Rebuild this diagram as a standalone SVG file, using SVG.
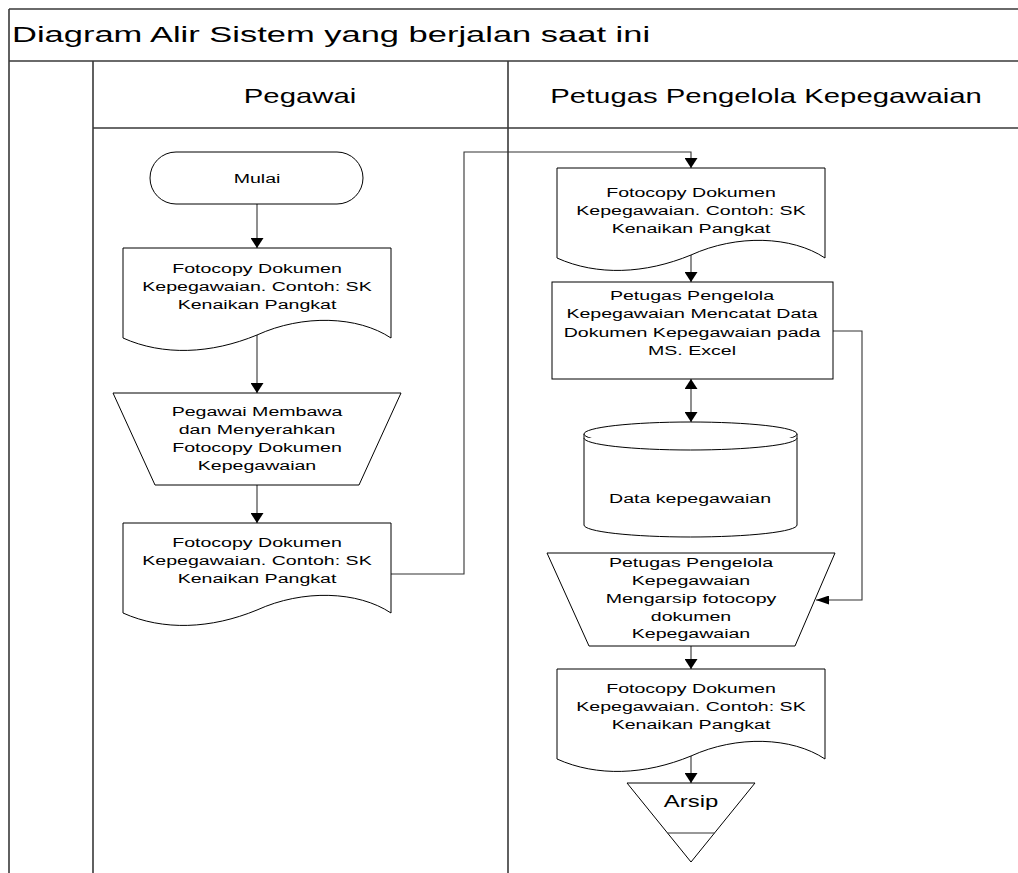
<svg xmlns="http://www.w3.org/2000/svg" xmlns:xlink="http://www.w3.org/1999/xlink" width="1018" height="873" viewBox="0 0 1018 873">
<style>
.lane{stroke:#3a3a3a;stroke-width:1.6;fill:none}
.sh{fill:#fff;stroke:#000;stroke-width:1}
.cn{fill:none;stroke:#333;stroke-width:1.1}
.t{font-family:"Liberation Sans",Arial,sans-serif;font-size:13.5px;text-anchor:middle;fill:#000}
.h{font-family:"Liberation Sans",Arial,sans-serif;font-size:20.5px;text-anchor:middle;fill:#000}
.ti{font-family:"Liberation Sans",Arial,sans-serif;font-size:23px;fill:#000}
</style>
<defs>
<path id="doc" d="M0,0 H268 V90 C235,68 180,66 134,87 C88,106 40,108 0,90 Z"/>
<marker id="arrV" markerUnits="userSpaceOnUse" markerWidth="10" markerHeight="13" refX="10" refY="6.5" orient="auto-start-reverse">
<path d="M0,0 L10,6.5 L0,13 Z" fill="#000"/>
</marker>
<marker id="arrH" markerUnits="userSpaceOnUse" markerWidth="13" markerHeight="9" refX="13" refY="4.5" orient="auto">
<path d="M0,0 L13,4.5 L0,9 Z" fill="#000"/>
</marker>
</defs>
<rect width="1018" height="873" fill="#fff"/>
<g id="lanes">
<path class="lane" d="M9,9 H1018 M9,9 V873 M9,61 H1018 M93,61 V873 M508,61 V873 M93,128 H1018"/>
<text class="ti" transform="matrix(1.5 0 0 1 12 0)" x="0" y="42">Diagram Alir Sistem yang berjalan saat ini</text>
<text class="h" transform="matrix(1.43 0 0 1 300 0)" x="0" y="103">Pegawai</text>
<text class="h" transform="matrix(1.43 0 0 1 766 0)" x="0" y="103">Petugas Pengelola Kepegawaian</text>
</g>
<g id="connectors">
<path class="cn" d="M257,204 V248" marker-end="url(#arrV)"/>
<path class="cn" d="M257,335 V393" marker-end="url(#arrV)"/>
<path class="cn" d="M257,485 V523" marker-end="url(#arrV)"/>
<path class="cn" d="M391,574 H464 V152 H691 V168" marker-end="url(#arrV)"/>
<path class="cn" d="M691,255 V282" marker-end="url(#arrV)"/>
<path class="cn" d="M691,379 V422" marker-start="url(#arrV)" marker-end="url(#arrV)"/>
<path class="cn" d="M833,331 H862 V600 H816" marker-end="url(#arrH)"/>
<path class="cn" d="M691,646 V669" marker-end="url(#arrV)"/>
<path class="cn" d="M691,756 V783" marker-end="url(#arrV)"/>
</g>
<g id="mulai">
<rect class="sh" x="150" y="152" width="213" height="52" rx="26" ry="26"/>
<text class="t" transform="matrix(1.45 0 0 1 257 0)" x="0" y="183">Mulai</text>
</g>
<g id="doc1">
<use href="#doc" xlink:href="#doc" x="123" y="248" class="sh"/>
<text class="t" transform="matrix(1.45 0 0 1 257 0)"><tspan x="0" y="273">Fotocopy Dokumen</tspan><tspan x="0" y="291">Kepegawaian. Contoh: SK</tspan><tspan x="0" y="309">Kenaikan Pangkat</tspan></text>
</g>
<g id="manual1">
<polygon class="sh" points="113,393 401,393 359,485 155,485"/>
<text class="t" transform="matrix(1.45 0 0 1 257 0)"><tspan x="0" y="416">Pegawai Membawa</tspan><tspan x="0" y="434">dan Menyerahkan</tspan><tspan x="0" y="452">Fotocopy Dokumen</tspan><tspan x="0" y="470">Kepegawaian</tspan></text>
</g>
<g id="doc2">
<use href="#doc" xlink:href="#doc" x="123" y="523" class="sh"/>
<text class="t" transform="matrix(1.45 0 0 1 257 0)"><tspan x="0" y="547">Fotocopy Dokumen</tspan><tspan x="0" y="565">Kepegawaian. Contoh: SK</tspan><tspan x="0" y="583">Kenaikan Pangkat</tspan></text>
</g>
<g id="doc3">
<use href="#doc" xlink:href="#doc" x="557" y="168" class="sh"/>
<text class="t" transform="matrix(1.45 0 0 1 691 0)"><tspan x="0" y="197">Fotocopy Dokumen</tspan><tspan x="0" y="215">Kepegawaian. Contoh: SK</tspan><tspan x="0" y="233">Kenaikan Pangkat</tspan></text>
</g>
<g id="proses">
<rect class="sh" x="552" y="282" width="281" height="97"/>
<text class="t" transform="matrix(1.45 0 0 1 692 0)"><tspan x="0" y="300">Petugas Pengelola</tspan><tspan x="0" y="318">Kepegawaian Mencatat Data</tspan><tspan x="0" y="337">Dokumen Kepegawaian pada</tspan><tspan x="0" y="355">MS. Excel</tspan></text>
</g>
<g id="database">
<path class="sh" d="M584,434 V525 A106.5,12 0 0 0 797,525 V434"/>
<ellipse class="sh" cx="690.5" cy="434" rx="106.5" ry="12"/>
<path class="sh" fill="none" d="M584,438 A106.5,12 0 0 0 797,438"/>
<text class="t" transform="matrix(1.45 0 0 1 690 0)" x="0" y="503">Data kepegawaian</text>
</g>
<g id="manual2">
<polygon class="sh" points="547,553 835,553 795,646 589,646"/>
<text class="t" transform="matrix(1.45 0 0 1 691 0)"><tspan x="0" y="567">Petugas Pengelola</tspan><tspan x="0" y="585">Kepegawaian</tspan><tspan x="0" y="603">Mengarsip fotocopy</tspan><tspan x="0" y="621">dokumen</tspan><tspan x="0" y="638">Kepegawaian</tspan></text>
</g>
<g id="doc4">
<use href="#doc" xlink:href="#doc" x="557" y="669" class="sh"/>
<text class="t" transform="matrix(1.45 0 0 1 691 0)"><tspan x="0" y="693">Fotocopy Dokumen</tspan><tspan x="0" y="711">Kepegawaian. Contoh: SK</tspan><tspan x="0" y="729">Kenaikan Pangkat</tspan></text>
</g>
<g id="arsip">
<polygon class="sh" points="627,783 755,783 691,862"/>
<line x1="667.5" y1="833" x2="714.5" y2="833" stroke="#333" stroke-width="1.2"/>
<text class="t" style="font-size:16.5px" transform="matrix(1.45 0 0 1 691 0)" x="0" y="807">Arsip</text>
</g>
</svg>
